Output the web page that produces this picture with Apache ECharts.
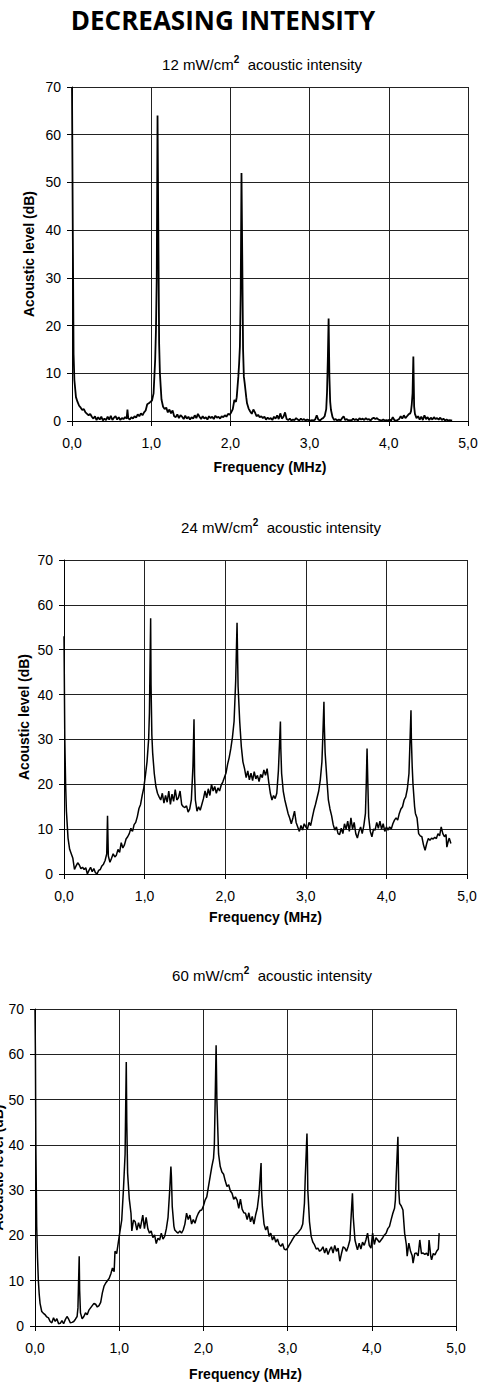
<!DOCTYPE html>
<html><head><meta charset="utf-8">
<script src="https://cdn.jsdelivr.net/npm/echarts@6/dist/echarts.min.js"></script>
<style>html,body{margin:0;padding:0;background:#fff}#c{width:479px;height:1382px}</style>
</head><body><div id="c"></div>
<script>
// ---- DATA ----
const mainTitle = 'DECREASING INTENSITY';
const intensities = ['12', '24', '60'];
const xTicks = [0, 1, 2, 3, 4, 5];
const yTicks = [0, 10, 20, 30, 40, 50, 60, 70];
const xName = 'Frequency (MHz)';
const yName = 'Acoustic level (dB)';

// [frequency MHz, acoustic level dB]
const spectrum12 = [[0,70],[0.01,40],[0.02,14],[0.03,8.6],[0.05,5],[0.07,4],[0.09,3.2],[0.11,2.8],[0.13,2.3],[0.15,2.5],[0.17,1.8],[0.19,1.5],[0.21,1.2],[0.23,1.5],[0.25,0.9],[0.27,0.5],[0.29,1.0],[0.31,0.2],[0.33,0.8],[0.35,0.3],[0.37,0.9],[0.39,0.1],[0.41,0.5],[0.43,0.2],[0.45,0.9],[0.47,0.3],[0.49,1.1],[0.51,0.2],[0.53,0.7],[0.55,1.0],[0.57,0.3],[0.59,0.8],[0.61,0.2],[0.63,0.6],[0.65,0.4],[0.67,0.8],[0.69,0.5],[0.70,2.4],[0.71,0.6],[0.73,0.3],[0.75,0.8],[0.77,0.5],[0.79,1.0],[0.81,0.7],[0.83,1.4],[0.85,1.0],[0.87,1.6],[0.89,1.2],[0.91,1.8],[0.93,2.2],[0.95,3.5],[0.97,3.7],[0.99,4.0],[1.01,4.3],[1.03,5.8],[1.05,12.8],[1.06,19],[1.07,30],[1.08,64],[1.09,40],[1.10,16.3],[1.11,10],[1.12,7.2],[1.13,4.5],[1.15,3.0],[1.17,2.5],[1.19,2.8],[1.21,1.8],[1.23,2.4],[1.25,1.6],[1.27,2.2],[1.29,1.0],[1.31,0.8],[1.33,1.4],[1.35,0.6],[1.37,1.2],[1.39,0.9],[1.41,0.4],[1.43,1.1],[1.45,0.5],[1.47,0.9],[1.49,0.3],[1.51,0.8],[1.53,0.5],[1.55,1.2],[1.57,0.6],[1.59,1.5],[1.61,0.9],[1.63,0.4],[1.65,1.0],[1.67,0.5],[1.69,0.8],[1.71,0.3],[1.73,1.0],[1.75,0.6],[1.77,0.9],[1.79,0.4],[1.81,1.1],[1.83,0.7],[1.85,0.9],[1.87,0.5],[1.89,1.0],[1.91,0.8],[1.93,1.2],[1.95,0.9],[1.97,1.5],[1.99,1.3],[2.01,1.8],[2.03,2.5],[2.05,4.4],[2.07,4.0],[2.08,5],[2.10,9.3],[2.11,12],[2.12,15.6],[2.13,26.8],[2.14,52],[2.15,33.8],[2.16,15],[2.17,9.3],[2.18,8],[2.19,6.5],[2.20,5],[2.21,3.7],[2.23,2.6],[2.25,2.0],[2.27,1.5],[2.29,2.4],[2.31,1.8],[2.33,1.0],[2.35,1.3],[2.37,0.8],[2.39,1.0],[2.41,0.6],[2.43,0.9],[2.45,0.3],[2.47,0.7],[2.49,0.4],[2.51,0.6],[2.53,0.2],[2.55,0.9],[2.57,0.5],[2.59,1.2],[2.61,0.4],[2.63,1.6],[2.65,0.5],[2.67,0.9],[2.69,1.8],[2.71,0.4],[2.73,0.2],[2.75,0.5],[2.77,0.1],[2.79,0.3],[2.81,0.2],[2.83,0.6],[2.85,0.3],[2.87,0.1],[2.89,0.5],[2.91,0.2],[2.93,0.4],[2.95,0.1],[2.97,0.3],[2.99,0.2],[3.01,0.1],[3.03,0.2],[3.05,0.1],[3.07,0.3],[3.09,1.2],[3.11,0.3],[3.13,0.1],[3.15,0.4],[3.17,0.6],[3.19,1.0],[3.21,2.5],[3.22,6],[3.23,12.8],[3.24,21.5],[3.25,9.3],[3.26,4],[3.27,2.3],[3.29,0.8],[3.31,0.2],[3.33,0.4],[3.35,0.1],[3.37,0.3],[3.39,0.1],[3.41,0.6],[3.43,1.0],[3.45,0.2],[3.47,0.4],[3.49,0.1],[3.51,0.2],[3.53,0.1],[3.55,0.5],[3.57,0.2],[3.59,0.4],[3.61,0.1],[3.63,0.6],[3.65,0.3],[3.67,0.5],[3.69,0.2],[3.71,0.6],[3.73,0.3],[3.75,0.4],[3.77,0.1],[3.79,0.5],[3.81,0.7],[3.83,0.4],[3.85,0.6],[3.87,0.3],[3.89,0.2],[3.91,0.1],[3.93,0.3],[3.95,0.1],[3.97,0.2],[3.99,0.1],[4.01,0.3],[4.03,0.1],[4.05,0.8],[4.07,0.2],[4.09,0.1],[4.11,0.2],[4.13,0.4],[4.15,1.0],[4.17,0.5],[4.19,1.2],[4.21,0.6],[4.23,1.0],[4.25,1.4],[4.27,1.6],[4.28,2.0],[4.29,3.5],[4.30,5.8],[4.31,13.5],[4.32,3.0],[4.33,1.5],[4.35,0.6],[4.37,1.0],[4.39,0.3],[4.41,0.9],[4.43,0.2],[4.45,1.2],[4.47,0.4],[4.49,0.8],[4.51,0.2],[4.53,0.7],[4.55,0.3],[4.57,0.8],[4.59,0.4],[4.61,0.6],[4.63,0.3],[4.65,0.7],[4.67,0.2],[4.69,0.5],[4.71,0.1],[4.73,0.3],[4.75,0.1],[4.77,0.2],[4.79,0.1],[4.80,0.1]];

const spectrum24 = [[0,53],[0.01,30],[0.02,20],[0.03,14],[0.05,8],[0.07,5.5],[0.09,4.5],[0.11,3.5],[0.13,1.0],[0.15,1.8],[0.17,2.5],[0.19,2.0],[0.21,1.2],[0.23,1.5],[0.25,1.0],[0.27,1.4],[0.29,0.0],[0.31,0.8],[0.33,1.5],[0.35,0.5],[0.37,1.2],[0.39,0.3],[0.41,0.0],[0.43,0.8],[0.45,1.0],[0.47,1.8],[0.49,2.2],[0.51,3.0],[0.53,4.5],[0.54,13],[0.55,4.0],[0.57,2.6],[0.59,3.5],[0.61,4.5],[0.63,3.8],[0.65,4.2],[0.67,5.5],[0.69,4.8],[0.71,7.0],[0.73,5.8],[0.75,6.5],[0.77,7.8],[0.79,8.3],[0.81,9.0],[0.83,10.2],[0.85,9.5],[0.87,11.0],[0.89,11.5],[0.91,12.8],[0.93,14.6],[0.95,15.5],[0.97,17.5],[0.99,19.2],[1.01,22],[1.03,25],[1.05,30],[1.06,36],[1.075,57],[1.08,42],[1.09,31],[1.10,27],[1.12,22.4],[1.14,19.5],[1.16,18],[1.18,17.2],[1.20,16.5],[1.22,18.0],[1.24,15.8],[1.26,17.5],[1.28,16.0],[1.30,18.5],[1.32,15.5],[1.34,17.8],[1.36,16.2],[1.38,18.8],[1.40,16.5],[1.42,17.0],[1.44,18.5],[1.46,15.5],[1.48,15.0],[1.50,14.8],[1.52,15.2],[1.54,13.8],[1.56,14.5],[1.58,16.5],[1.60,24],[1.613,34.5],[1.62,22],[1.63,16.5],[1.65,14.0],[1.67,15.0],[1.69,14.2],[1.71,15.5],[1.73,16.8],[1.75,18.5],[1.77,17.0],[1.79,19.0],[1.81,17.5],[1.83,20.0],[1.85,18.5],[1.87,19.5],[1.89,18.0],[1.91,19.2],[1.93,18.5],[1.95,19.8],[1.97,20.5],[1.99,21.5],[2.01,22.5],[2.03,24.5],[2.05,26],[2.07,28],[2.09,30.5],[2.11,34],[2.13,43],[2.147,56],[2.155,47],[2.16,41.8],[2.18,34],[2.20,28.4],[2.22,25],[2.24,23.5],[2.26,21.5],[2.28,23.0],[2.30,21.0],[2.32,22.5],[2.34,20.8],[2.36,22.8],[2.38,21.2],[2.40,22.0],[2.42,20.6],[2.44,22.2],[2.46,21.5],[2.48,23.2],[2.50,22.0],[2.52,23.5],[2.54,20.5],[2.56,18.0],[2.58,16.5],[2.60,17.5],[2.62,16.8],[2.64,18.0],[2.66,23],[2.685,34],[2.69,28],[2.70,22.4],[2.72,18.5],[2.74,16.5],[2.76,15.0],[2.78,13.5],[2.80,12.5],[2.82,11.2],[2.84,12.5],[2.86,14.0],[2.88,11.5],[2.90,10.5],[2.92,9.5],[2.94,10.8],[2.96,9.8],[2.98,11.2],[3.00,10.5],[3.02,10.0],[3.04,11.5],[3.06,10.8],[3.08,12.5],[3.10,14.2],[3.12,15.5],[3.14,17.0],[3.16,18.5],[3.18,21],[3.20,25],[3.21,30],[3.225,38.4],[3.23,33],[3.24,27],[3.26,21.5],[3.28,16.5],[3.30,14.5],[3.32,13.0],[3.34,11.0],[3.36,9.8],[3.38,10.5],[3.40,9.0],[3.42,8.8],[3.44,10.2],[3.46,9.0],[3.48,11.2],[3.50,10.0],[3.52,11.8],[3.54,9.5],[3.56,12.5],[3.58,10.0],[3.60,11.5],[3.62,9.0],[3.64,8.0],[3.66,9.5],[3.68,10.5],[3.70,9.0],[3.72,10.8],[3.74,13.5],[3.75,20],[3.76,28],[3.77,20],[3.78,12.7],[3.80,9.5],[3.82,8.3],[3.84,10.0],[3.86,9.8],[3.88,11.5],[3.90,10.2],[3.92,11.8],[3.94,10.0],[3.96,11.2],[3.98,9.5],[4.00,10.5],[4.02,9.8],[4.04,10.5],[4.06,10.0],[4.08,11.2],[4.10,12.0],[4.12,12.5],[4.14,12.0],[4.16,13.5],[4.18,14.5],[4.20,15.0],[4.22,16.5],[4.24,17.2],[4.26,19],[4.28,22.4],[4.29,28],[4.305,36.5],[4.31,30],[4.32,24],[4.33,20],[4.35,15],[4.36,13.5],[4.38,12.5],[4.40,9.0],[4.42,8.5],[4.44,8.3],[4.46,6.5],[4.48,5.3],[4.50,6.8],[4.52,7.9],[4.54,7.5],[4.56,8.0],[4.58,7.8],[4.60,8.2],[4.62,7.9],[4.64,9.0],[4.66,8.5],[4.68,10.5],[4.70,9.0],[4.72,8.3],[4.74,8.8],[4.75,6.0],[4.77,7.5],[4.78,8.0],[4.80,6.8]];

const spectrum60 = [[0,70],[0.005,60],[0.01,40],[0.02,22],[0.03,15],[0.04,10],[0.05,7],[0.06,5],[0.08,3.2],[0.10,2.8],[0.12,2.5],[0.14,2.0],[0.16,1.8],[0.18,1.0],[0.20,0.7],[0.22,1.8],[0.24,1.0],[0.26,1.6],[0.28,0.5],[0.30,0.6],[0.32,1.2],[0.34,0.5],[0.36,1.4],[0.38,2.1],[0.40,1.5],[0.42,0.7],[0.44,0.8],[0.46,1.0],[0.48,1.5],[0.50,2.1],[0.51,4],[0.525,15.4],[0.53,8],[0.54,2.9],[0.56,1.6],[0.58,2.1],[0.60,2.9],[0.62,2.5],[0.64,3.5],[0.66,4.0],[0.68,4.5],[0.70,5.0],[0.72,4.8],[0.74,4.2],[0.76,4.5],[0.78,5.2],[0.80,7.3],[0.82,8.8],[0.84,9.5],[0.86,10.0],[0.88,10.5],[0.90,11.5],[0.92,12.8],[0.94,12.0],[0.95,16.5],[0.97,16.0],[0.99,18.5],[1.01,21],[1.03,23.4],[1.05,30],[1.07,38],[1.084,58.3],[1.09,45],[1.10,33.7],[1.12,28],[1.14,24.9],[1.15,21],[1.17,23.4],[1.19,23],[1.21,21.2],[1.23,22.8],[1.25,21.5],[1.27,23.5],[1.28,24.5],[1.30,21.5],[1.32,24.0],[1.34,21.5],[1.36,20.5],[1.38,21.0],[1.40,19.5],[1.42,20.1],[1.44,18.2],[1.46,19.4],[1.48,19.0],[1.50,20.5],[1.52,19.2],[1.54,19.8],[1.56,21.5],[1.58,24],[1.60,30],[1.614,35.2],[1.62,33],[1.63,26.4],[1.65,22],[1.66,21.2],[1.68,20.8],[1.70,20.5],[1.72,21.0],[1.74,20.5],[1.76,21.2],[1.78,22.5],[1.80,24.9],[1.82,23.5],[1.84,24.5],[1.86,22.5],[1.88,23.5],[1.90,22.7],[1.92,24.0],[1.94,24.9],[1.96,25.5],[1.98,25.6],[2.00,26.5],[2.02,27.8],[2.04,28.5],[2.06,30.8],[2.08,33],[2.10,35.2],[2.12,37],[2.13,40],[2.14,50],[2.151,62],[2.16,50],[2.17,44],[2.18,38],[2.20,35.2],[2.22,34],[2.24,33.5],[2.26,32],[2.28,30.8],[2.30,31.2],[2.32,29.8],[2.34,29.3],[2.36,28.0],[2.38,28.5],[2.40,27.8],[2.42,26.0],[2.44,28],[2.46,25.8],[2.48,25.0],[2.50,24.9],[2.52,23.5],[2.54,25.0],[2.56,23.0],[2.58,24.2],[2.60,22.5],[2.62,24.5],[2.64,26],[2.66,29],[2.685,36],[2.69,30],[2.70,26.4],[2.72,22.5],[2.74,21.2],[2.76,22.0],[2.78,19.8],[2.80,20.5],[2.82,19.0],[2.84,19.8],[2.86,18.5],[2.88,19.2],[2.90,18.0],[2.92,17.6],[2.94,18.2],[2.96,17.0],[2.98,16.8],[3.00,17.2],[3.02,17.9],[3.04,18.5],[3.06,19.2],[3.08,19.8],[3.10,20.2],[3.12,20.5],[3.14,21.0],[3.16,21.5],[3.18,22.5],[3.20,27.1],[3.21,33],[3.23,42.5],[3.235,38],[3.24,30],[3.26,23],[3.28,19.8],[3.30,18.5],[3.32,17.9],[3.34,17.0],[3.36,17.2],[3.38,16.5],[3.40,16.8],[3.42,17.5],[3.44,16.1],[3.46,17.2],[3.48,15.8],[3.50,16.8],[3.52,17.5],[3.54,16.1],[3.56,17.8],[3.58,16.5],[3.60,17.2],[3.62,14.3],[3.64,16.0],[3.66,17.5],[3.68,17.2],[3.70,16.5],[3.72,17.6],[3.74,19],[3.75,22.7],[3.76,26],[3.77,29.3],[3.78,24],[3.80,19],[3.82,17.5],[3.83,16.8],[3.85,18.3],[3.87,17.0],[3.89,18.5],[3.91,17.8],[3.93,19.0],[3.95,20.5],[3.97,17.8],[3.99,17.2],[4.01,20.5],[4.03,18.0],[4.05,19.5],[4.07,19.0],[4.09,18.5],[4.11,19.0],[4.13,19.5],[4.15,20.1],[4.17,20.5],[4.19,21.5],[4.21,22.0],[4.23,23.5],[4.25,24.9],[4.27,26],[4.28,27.8],[4.29,33],[4.31,41.8],[4.315,36],[4.32,30],[4.33,27.1],[4.35,26.5],[4.37,25.6],[4.39,20.5],[4.41,18.0],[4.42,15.4],[4.44,18.3],[4.46,16.5],[4.48,15.5],[4.49,13.9],[4.51,16.0],[4.53,16.1],[4.55,15.5],[4.57,19.0],[4.59,16.0],[4.61,16.1],[4.63,15.8],[4.65,16.1],[4.67,15.5],[4.68,19.0],[4.70,15.5],[4.71,14.6],[4.73,16.0],[4.75,15.7],[4.77,16.5],[4.79,17.0],[4.80,20.5]];

const spectra = [spectrum12, spectrum24, spectrum60];

// ---- LAYOUT ----
const grids = [
  {left: 72, top: 87, width: 396, height: 334},
  {left: 64, top: 560, width: 403, height: 314},
  {left: 35, top: 1009, width: 421, height: 317}
];
const titlePos = [{x: 262, y: 54}, {x: 281, y: 517}, {x: 272, y: 965}];
const yNameGap = [36, 33, 30];
const xNameGap = [39, 36, 41];

const FONT = '"Liberation Sans", Arial, sans-serif';
const fmt = v => v.toFixed(1).replace('.', ',');

const option = {
  backgroundColor: '#fff',
  animation: false,
  title: [{
    text: mainTitle, left: 223, top: 6, textAlign: 'center', padding: 0,
    textStyle: {fontFamily: '"Open Sans", sans-serif', fontWeight: 'bold', fontSize: 26, lineHeight: 28, color: '#000'}
  }].concat(intensities.map((t, i) => ({
    text: '{a|' + t + ' mW/cm}{s|2}{a|  acoustic intensity}',
    left: titlePos[i].x, top: titlePos[i].y, textAlign: 'center', padding: 0,
    textStyle: {
      fontFamily: FONT, fontSize: 15, fontWeight: 'normal', color: '#000',
      rich: {
        a: {fontFamily: FONT, fontSize: 15, fontWeight: 'normal', color: '#000', lineHeight: 18, verticalAlign: 'bottom'},
        s: {fontFamily: FONT, fontSize: 10, fontWeight: 'bold', color: '#000', lineHeight: 18, verticalAlign: 'top'}
      }
    }
  }))),
  grid: grids.map(g => Object.assign({containLabel: false, outerBoundsMode: 'none'}, g)),
  xAxis: grids.map((g, i) => ({
    type: 'value', gridIndex: i, min: xTicks[0], max: xTicks[xTicks.length - 1], interval: 1,
    name: xName, nameLocation: 'middle', nameGap: xNameGap[i], nameMoveOverlap: false,
    nameTextStyle: {fontFamily: FONT, fontWeight: 'bold', fontSize: 14, color: '#000'},
    axisLine: {show: true, lineStyle: {color: '#000', width: 1}},
    axisTick: {show: true, length: 5, lineStyle: {color: '#000'}},
    axisLabel: {formatter: fmt, fontFamily: FONT, fontSize: 14, color: '#000', margin: 15},
    splitLine: {show: true, lineStyle: {color: '#222', width: 1}}
  })),
  yAxis: grids.map((g, i) => ({
    type: 'value', gridIndex: i, min: yTicks[0], max: yTicks[yTicks.length - 1], interval: 10,
    name: yName, nameLocation: 'middle', nameGap: yNameGap[i], nameRotate: 90, nameMoveOverlap: false,
    nameTextStyle: {fontFamily: FONT, fontWeight: 'bold', fontSize: 14, color: '#000'},
    axisLine: {show: true, lineStyle: {color: '#000', width: 1}},
    axisTick: {show: true, length: 5, lineStyle: {color: '#000'}},
    axisLabel: {fontFamily: FONT, fontSize: 14, color: '#000', margin: 11},
    splitLine: {show: true, lineStyle: {color: '#222', width: 1}}
  })),
  series: spectra.map((d, i) => ({
    type: 'line', xAxisIndex: i, yAxisIndex: i, data: d,
    showSymbol: false, symbol: 'none', clip: true,
    lineStyle: {color: '#000', width: i === 0 ? 1.8 : 1.5}
  }))
};

const chart = echarts.init(document.getElementById('c'), null, {renderer: 'svg', width: 479, height: 1382});
chart.setOption(option);
</script>
</body></html>
